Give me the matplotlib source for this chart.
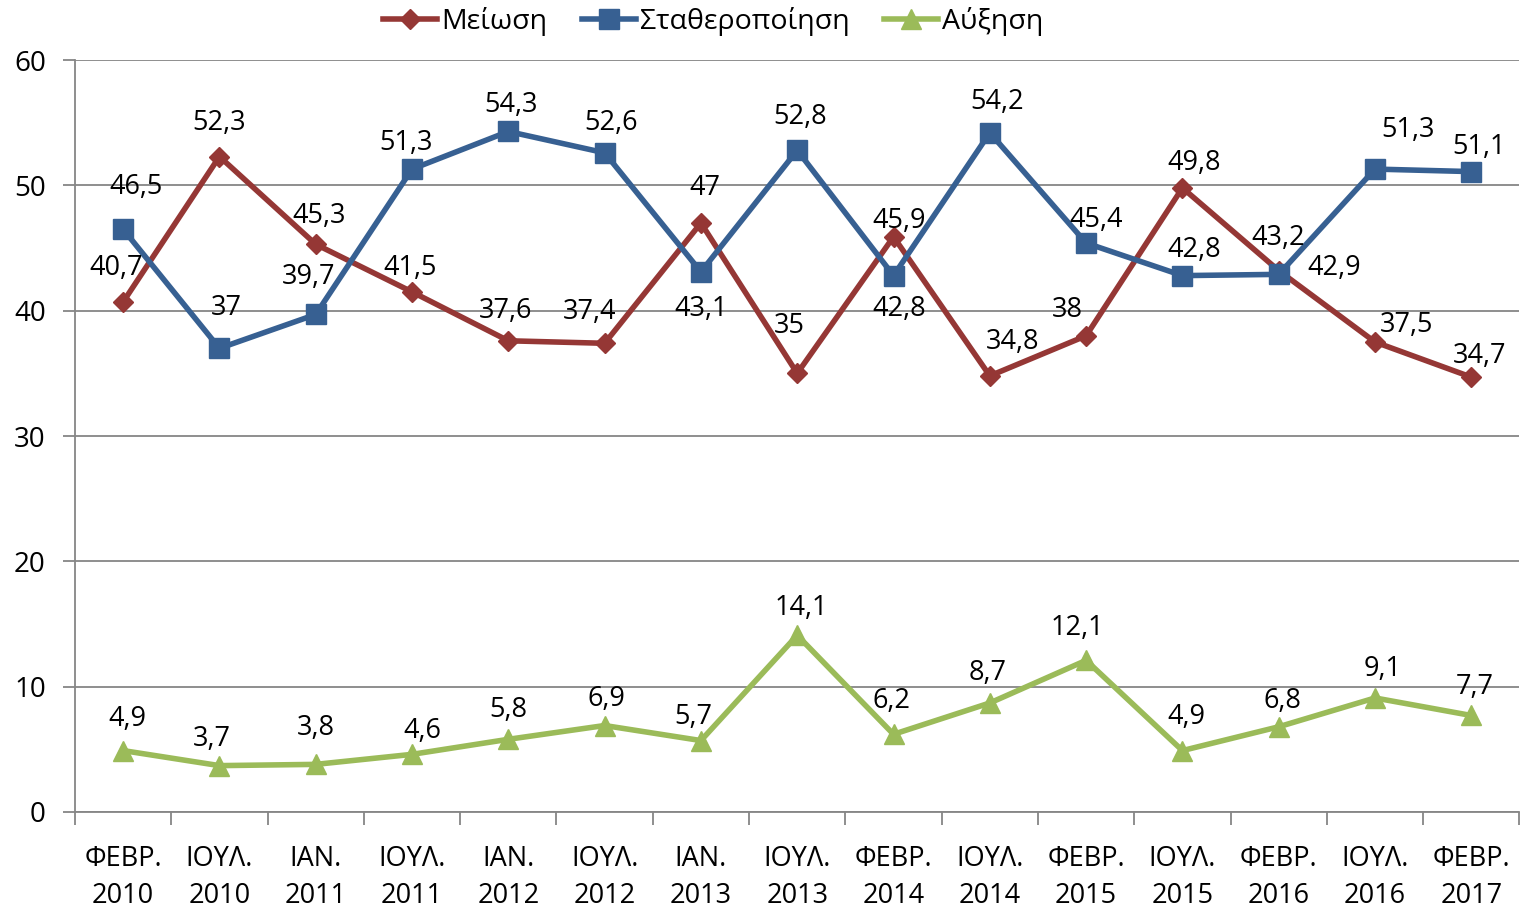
import matplotlib
matplotlib.use("Agg")
import matplotlib.pyplot as plt
import numpy as np

plt.rcParams['font.family'] = ['Open Sans', 'DejaVu Sans']

categories = ["ΦΕΒΡ.\n2010", "ΙΟΥΛ.\n2010", "ΙΑΝ.\n2011", "ΙΟΥΛ.\n2011", "ΙΑΝ.\n2012",
              "ΙΟΥΛ.\n2012", "ΙΑΝ.\n2013", "ΙΟΥΛ.\n2013", "ΦΕΒΡ.\n2014", "ΙΟΥΛ.\n2014",
              "ΦΕΒΡ.\n2015", "ΙΟΥΛ.\n2015", "ΦΕΒΡ.\n2016", "ΙΟΥΛ.\n2016", "ΦΕΒΡ.\n2017"]
meiosi = [40.7, 52.3, 45.3, 41.5, 37.6, 37.4, 47, 35, 45.9, 34.8, 38, 49.8, 43.2, 37.5, 34.7]
statheropoiisi = [46.5, 37, 39.7, 51.3, 54.3, 52.6, 43.1, 52.8, 42.8, 54.2, 45.4, 42.8, 42.9, 51.3, 51.1]
afxisi = [4.9, 3.7, 3.8, 4.6, 5.8, 6.9, 5.7, 14.1, 6.2, 8.7, 12.1, 4.9, 6.8, 9.1, 7.7]

# label offsets in pixels (dx, dy)
off_red = [(-7, 34), (0, 34), (3, 28), (-2, 24), (-3, 30), (-15, 31), (4, 35), (-8, 47),
           (6, 16), (23, 34), (-19, 26), (12, 25), (-1, 33), (32, 17), (8, 21)]
off_blue = [(13, 42), (7, 40), (-7, 37), (-6, 26), (3, 26), (6, 30), (0, -37), (3, 33),
            (6, -33), (7, 31), (10, 23), (12, 26), (55, 6), (33, 39), (8, 25)]
off_green = [(4, 32), (-8, 27), (0, 36), (10, 23), (0, 29), (2, 27), (-8, 24), (4, 27),
             (-2, 33), (-2, 30), (-9, 32), (4, 34), (4, 26), (8, 29), (3, 28)]

fig = plt.figure(figsize=(15.21, 9.10), dpi=100)
ax = fig.add_axes([0.0493, 0.1077, 0.9497, 0.8263])

x = np.arange(len(categories))
series = [
    ("Μείωση", meiosi, "#953735", "D", 10, off_red),
    ("Σταθεροποίηση", statheropoiisi, "#376092", "s", 14, off_blue),
    ("Αύξηση", afxisi, "#9BBB59", "^", 14, off_green),
]

for name, vals, col, mk, ms, offs in series:
    ax.plot(x, vals, color=col, lw=4, marker=mk, markersize=ms, label=name, zorder=3)
    for xi, v, (dx, dy) in zip(x, vals, offs):
        ax.annotate(f"{v:g}".replace(".", ","), (xi, v), xytext=(dx, dy),
                    textcoords="offset pixels", ha="center", va="center",
                    fontsize=19.5, color="black", zorder=4)

ax.set_xlim(-0.5, len(categories) - 0.5)
ax.set_ylim(0, 60)
ax.set_yticks(range(0, 61, 10))
ax.grid(axis="y", color="#868686", lw=1.3)
ax.set_axisbelow(True)

ax.set_xticks(x)
ax.set_xticklabels(categories, fontsize=19.5, linespacing=1.4)
ax.set_xticks(np.arange(-0.5, len(categories), 1), minor=True)
ax.tick_params(axis="x", which="major", length=0, pad=24)
ax.tick_params(axis="x", which="minor", length=9, width=1.3, color="#868686")
ax.tick_params(axis="y", length=9, width=1.3, color="#868686", labelsize=20, pad=12)

for s in ["top", "right"]:
    ax.spines[s].set_visible(False)
for s in ["left", "bottom"]:
    ax.spines[s].set_color("#868686")
    ax.spines[s].set_linewidth(1.3)

fig.legend(loc="upper center", bbox_to_anchor=(0.469, 1.02), ncol=3, frameon=False,
           fontsize=20.5, handlelength=1.9, handletextpad=0.15, columnspacing=1.2)

fig.savefig("out.png", dpi=100)
